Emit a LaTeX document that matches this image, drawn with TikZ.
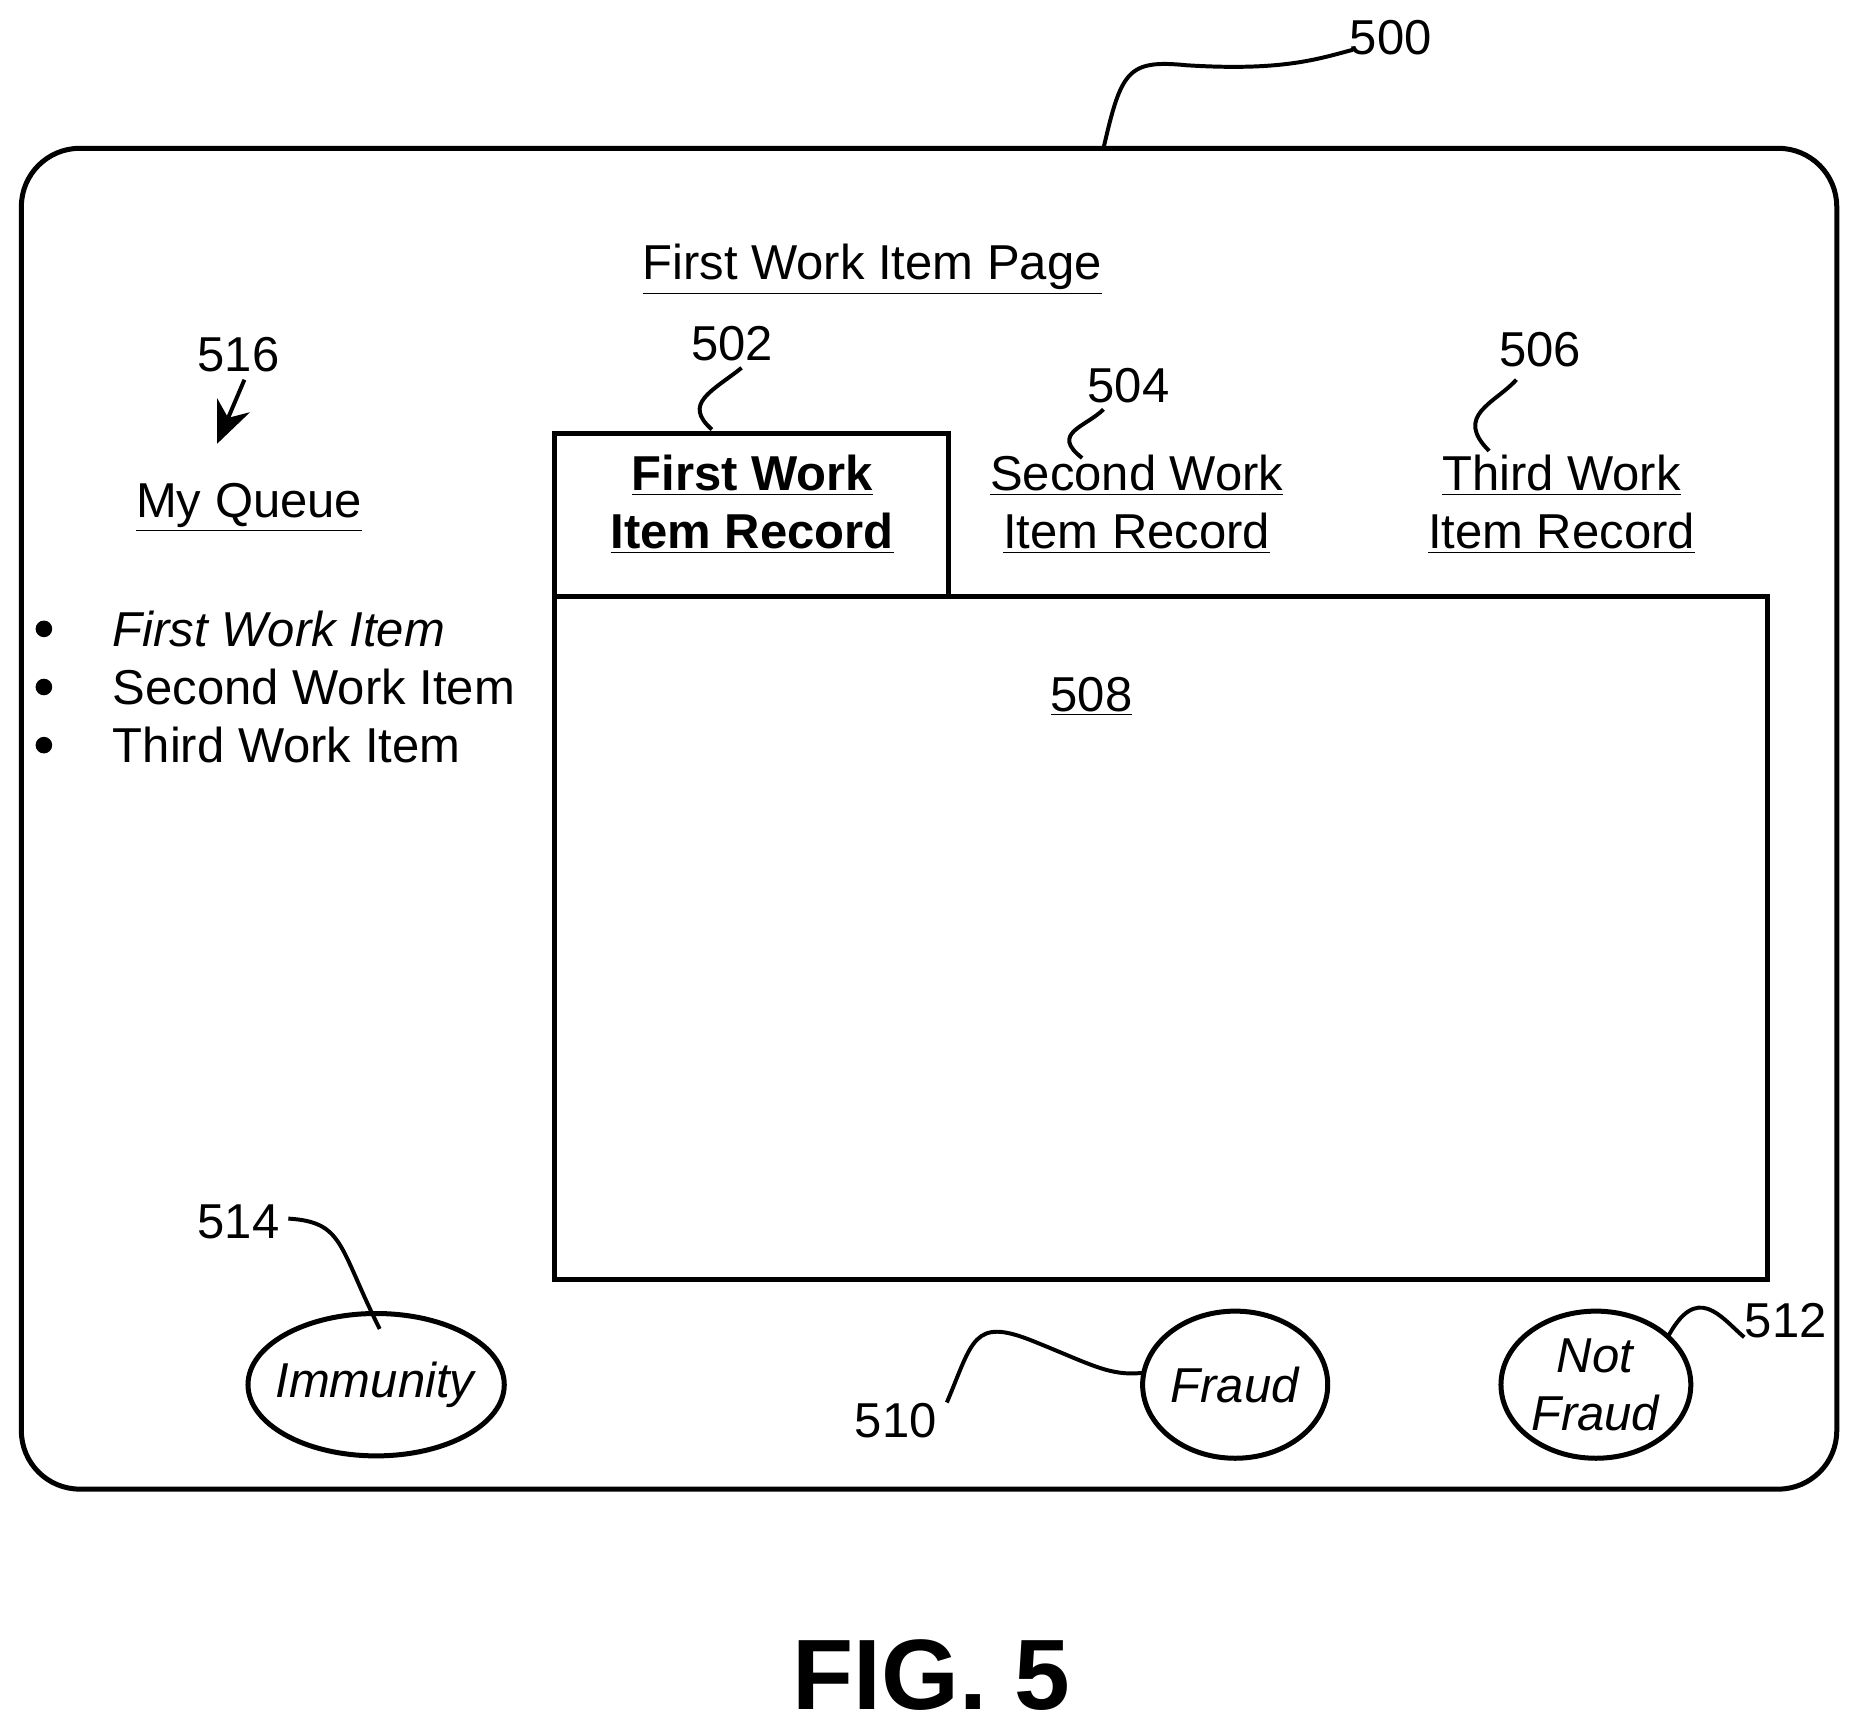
\documentclass[tikz,border=0pt]{standalone}
\usepackage{fontspec}
\setmainfont{Liberation Sans}
\usetikzlibrary{arrows.meta}
\newcommand\ulin[1]{$\underline{\hbox{#1}}$}

\begin{document}
\begin{tikzpicture}[x=0.02cm,y=-0.02cm,line width=2.4pt,
  txt/.style={font=\fontsize{23.5}{28}\selectfont,inner sep=0pt,align=center},
  lead/.style={line width=1.9pt},
  btn/.style={line width=2.4pt}]
  \useasboundingbox (0,0) rectangle (1560,1460);
  % frame and boxes
  \draw[rounded corners=28] (18,125) rectangle (1548,1255);
  \draw (467,503) -- (467,365) -- (799,365) -- (799,503);
  \draw (467,503) rectangle (1490,1078);
  % texts
  \node[txt] (page) at (735,227) {\ulin{First Work Item Page}};
  \node[txt] (rec1) at (634,425) {\ulin{\textbf{First Work}}\\[0pt]\ulin{\textbf{Item Record}}};
  \node[txt] (rec2) at (958,425) {\ulin{Second Work}\\[0pt]\ulin{Item Record}};
  \node[txt] (rec3) at (1316,425) {\ulin{Third Work}\\[0pt]\ulin{Item Record}};
  \node[txt] (queue) at (210,428) {\ulin{My Queue}};
  \node[txt] (body) at (920,587) {\ulin{508}};
  \foreach \t/\y in {{\textit{First Work Item}}/530,{Second Work Item}/579,{Third Work Item}/628}{
    \fill (37,\y) circle (7);
    \node[txt,anchor=west] at (93,\y) {\t};
  }
  % buttons
  \draw[btn] (317,1167) ellipse (108 and 60);
  \node[txt] (imm) at (317,1167) {\textit{Immunity}};
  \draw[btn] (1041,1167) ellipse (78 and 62);
  \node[txt] (fraud) at (1041,1167) {\textit{Fraud}};
  \draw[btn] (1345,1167) ellipse (80 and 62);
  \node[txt] (nfraud) at (1345,1167) {\textit{Not}\\[0pt]\textit{Fraud}};
  % reference numerals
  \node[txt] (n500) at (1172,32) {500};
  \node[txt] (n502) at (617,290) {502};
  \node[txt] (n504) at (951,325) {504};
  \node[txt] (n506) at (1298,295) {506};
  \node[txt] (n516) at (201,299) {516};
  \node[txt] (n514) at (201,1030) {514};
  \node[txt] (n510) at (755,1197) {510};
  \node[txt] (n512) at (1505,1113) {512};
  \node[font=\fontsize{48}{56}\selectfont\bfseries,inner sep=0pt] (fig) at (785,1412) {FIG. 5};
  % leaders
  \draw[lead] (930,125) .. controls (945,60) and (950,50) .. (1000,55)
    .. controls (1080,60) and (1110,50) .. (1140,42);
  \draw[lead] (625,310) .. controls (600,330) and (575,340) .. (600,362);
  \draw[lead] (930,345) .. controls (915,360) and (885,365) .. (912,386);
  \draw[lead] (1278,320) .. controls (1260,340) and (1225,350) .. (1255,380);
  \draw[lead,-{Stealth[length=20pt,width=17pt]}] (206,320) -- (183,374);
  \draw[lead] (243,1027) .. controls (290,1030) and (285,1050) .. (320,1120);
  \draw[lead] (798,1182) .. controls (820,1130) and (820,1110) .. (870,1130)
    .. controls (920,1150) and (935,1160) .. (963,1157);
  \draw[lead] (1470,1127) .. controls (1450,1110) and (1430,1080) .. (1405,1128);
\end{tikzpicture}
\end{document}
